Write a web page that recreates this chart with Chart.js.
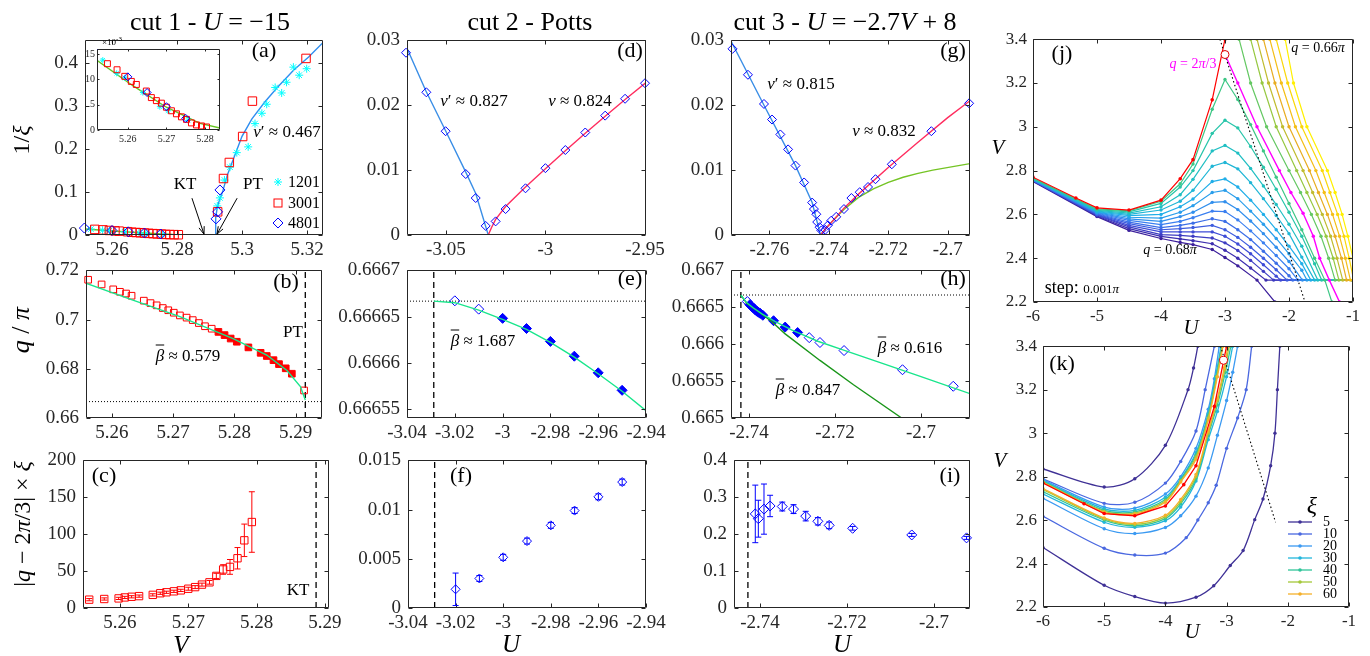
<!DOCTYPE html>
<html>
<head>
<meta charset="utf-8">
<script src="https://cdn.jsdelivr.net/npm/chart.js@4.4.1/dist/chart.umd.min.js"></script>
<style>
  body { margin: 0; width: 1370px; height: 656px; background: #fff; position: relative; overflow: hidden;
         font-family: "Liberation Serif", "Times New Roman", serif; }
  canvas { position: absolute; }
  .t { position: absolute; white-space: nowrap; color: #000; line-height: 1; }
  .ob { text-decoration: overline; font-style: italic; }
</style>
</head>
<body>
<script>
// ---------- (a) 1/xi along cut 1 ----------
const aV1201 = [5.2535, 5.2571, 5.2592, 5.2639, 5.2683, 5.2704, 5.2756, 5.2924, 5.2932, 5.2946, 5.2963, 5.2984, 5.3019, 5.304, 5.3061, 5.3076, 5.3102, 5.3122, 5.3137, 5.3158, 5.3176, 5.3199];
const aY1201 = [0.0138, 0.0112, 0.0103, 0.0074, 0.0046, 0.0038, 0.0019, 0.0677, 0.0865, 0.128, 0.158, 0.192, 0.2054, 0.2596, 0.2837, 0.3047, 0.3438, 0.331, 0.3559, 0.3912, 0.3724, 0.3875];
const aV3001 = [5.2547, 5.2572, 5.2592, 5.2609, 5.2622, 5.2648, 5.2661, 5.2674, 5.2687, 5.27, 5.2713, 5.2726, 5.2739, 5.2752, 5.2765, 5.2778, 5.2791, 5.2804, 5.2925, 5.2943, 5.2961, 5.3002, 5.3032, 5.3197];
const aY3001 = [0.0131, 0.0119, 0.0106, 0.0096, 0.009, 0.0077, 0.0064, 0.0058, 0.0053, 0.0045, 0.0038, 0.0032, 0.0026, 0.0021, 0.0014, 0.001, 0.0008, 0.0006, 0.054, 0.1316, 0.169, 0.2295, 0.312, 0.4115];
const aV4801 = [5.2515, 5.26, 5.265, 5.27, 5.275, 5.292, 5.2925, 5.2932];
const aY4801 = [0.0162, 0.0105, 0.0074, 0.0046, 0.0023, 0.0376, 0.054, 0.105];
const aFitLow = [[5.2515, 0.014], [5.2614, 0.0087], [5.27, 0.0045], [5.2787, 0.0013], [5.2839, 0.0004], [5.2881, 0]];
const aFitHigh = [[5.2917, 0], [5.2919, 0.04], [5.2923, 0.06], [5.293, 0.08], [5.294, 0.1], [5.2955, 0.14], [5.2975, 0.18], [5.3, 0.23], [5.303, 0.27], [5.307, 0.31], [5.311, 0.345], [5.316, 0.385], [5.3205, 0.415], [5.3248, 0.4475]];
const aArrows = [[5.2846, 0.0858, 5.2883, 0.002], [5.2985, 0.0858, 5.2923, 0.002]];

// ---------- (b) q/pi along cut 1 ----------
const bVOpen = [5.2561, 5.2583, 5.2602, 5.2613, 5.2623, 5.2632, 5.2652, 5.2663, 5.2673, 5.2683, 5.2692, 5.2701, 5.2711, 5.2722, 5.2732, 5.2742, 5.2752, 5.2763, 5.2914];
const bQOpen = [0.7162, 0.7143, 0.7123, 0.7113, 0.7106, 0.7097, 0.7077, 0.7067, 0.7058, 0.7047, 0.7038, 0.7028, 0.7017, 0.7008, 0.6998, 0.6986, 0.6973, 0.6963, 0.6712];
const bVFill = [5.2774, 5.2784, 5.2794, 5.2804, 5.2823, 5.2843, 5.2853, 5.2864, 5.2873, 5.2884, 5.2894];
const bQFill = [0.695, 0.6937, 0.6923, 0.691, 0.6887, 0.6865, 0.6852, 0.6835, 0.6819, 0.6802, 0.678];
const bFit = [[5.2557, 0.7148], [5.2633, 0.708], [5.2711, 0.7012], [5.2798, 0.6923], [5.2853, 0.6856], [5.2886, 0.6793], [5.2908, 0.6728], [5.2916, 0.6673]];

// ---------- (c) |q-2pi/3| xi along cut 1 ----------
const cV = [5.2555, 5.2577, 5.2598, 5.2607, 5.2617, 5.2628, 5.2648, 5.2659, 5.2668, 5.2679, 5.2689, 5.27, 5.271, 5.272, 5.2731, 5.2741, 5.2751, 5.2761, 5.2772, 5.2782, 5.2793];
const cY = [11.3, 12.2, 13, 14.3, 15.2, 16.1, 17.8, 20, 21.3, 22.6, 23.9, 26.1, 28.3, 31.7, 34.8, 43.5, 52.2, 55.7, 67.4, 91.7, 116.5];
const cErr = [1.5, 1.5, 1.5, 1.5, 1.5, 1.5, 1.5, 1.5, 1.5, 1.5, 1.5, 2, 2, 2, 2.5, 3.5, 6.5, 10, 14.5, 22, 41];

// ---------- (d) 1/xi along cut 2 ----------
const dU = [-3.07, -3.0598, -3.0501, -3.04, -3.035, -3.03, -3.025, -3.02, -3.01, -3.0, -2.99, -2.98, -2.97, -2.96, -2.95];
const dY = [0.0281, 0.022, 0.016, 0.0094, 0.0057, 0.0014, 0.0021, 0.004, 0.0072, 0.0103, 0.0131, 0.0158, 0.0184, 0.021, 0.0234];
const dFitL = [[-3.0695, 0.0288], [-3.06, 0.0222], [-3.05, 0.016], [-3.04, 0.0097], [-3.035, 0.0064], [-3.0287, 0]];
const dFitR = [[-3.0287, 0], [-3.027, 0.0012], [-3.025, 0.0024], [-3.02, 0.0044], [-3.01, 0.0074], [-3.0, 0.0102], [-2.99, 0.013], [-2.98, 0.0157], [-2.97, 0.0183], [-2.96, 0.0209], [-2.9495, 0.0235]];

// ---------- (e) q/pi along cut 2 ----------
const eUOpen = [-3.02, -3.01];
const eQOpen = [0.666667, 0.666658];
const eUFill = [-3.0, -2.99, -2.98, -2.97, -2.96, -2.95];
const eQFill = [0.666648, 0.666637, 0.666623, 0.666607, 0.666589, 0.66657];
const eFit = [[-3.0288, 0.6666667], [-3.02, 0.666665], [-3.01, 0.666657], [-3.0, 0.666647], [-2.99, 0.666636], [-2.98, 0.666622], [-2.97, 0.666606], [-2.96, 0.666588], [-2.95, 0.666569], [-2.94, 0.666548]];

// ---------- (f) |q-2pi/3| xi along cut 2 ----------
const fU = [-3.02, -3.01, -3.0, -2.99, -2.98, -2.97, -2.96, -2.95];
const fY = [0.0019, 0.003, 0.00515, 0.0068, 0.0084, 0.0099, 0.0113, 0.0128];
const fErr = [0.00165, 0.0003, 0.0003, 0.0003, 0.0003, 0.0003, 0.0003, 0.0003];

// ---------- (g) 1/xi along cut 3 ----------
const gU = [-2.7724, -2.7672, -2.7618, -2.7591, -2.7563, -2.7537, -2.7512, -2.7483, -2.7456, -2.745, -2.7442, -2.7439, -2.7431, -2.7425, -2.7412, -2.7403, -2.7392, -2.7375, -2.7349, -2.7324, -2.7296, -2.7268, -2.7243, -2.7188, -2.7055, -2.6928];
const gY = [0.0287, 0.0247, 0.0202, 0.0178, 0.0155, 0.0132, 0.0107, 0.0081, 0.005, 0.004, 0.0032, 0.002, 0.0012, 0.0007, 0.0008, 0.0015, 0.0022, 0.0028, 0.004, 0.0057, 0.0066, 0.0074, 0.0086, 0.0109, 0.016, 0.0203];
const gFitL = [[-2.7729, 0.0299], [-2.7618, 0.02], [-2.7512, 0.0107], [-2.7456, 0.005], [-2.7428, 0]];
const gFitR = [[-2.7428, 0], [-2.741, 0.001], [-2.738, 0.0025], [-2.735, 0.0041], [-2.73, 0.0063], [-2.72, 0.0104], [-2.71, 0.0143], [-2.7, 0.0181], [-2.6925, 0.0207]];
const gFitG = [[-2.7428, 0], [-2.741, 0.001], [-2.738, 0.0025], [-2.735, 0.0039], [-2.73, 0.0058], [-2.725, 0.0071], [-2.72, 0.0081], [-2.715, 0.0089], [-2.71, 0.0095], [-2.705, 0.01], [-2.6925, 0.011]];

// ---------- (h) q/pi along cut 3 ----------
const hUOpen = [-2.7404, -2.726, -2.7235, -2.7179, -2.7043, -2.6925];
const hQOpen = [0.666578, 0.666089, 0.666023, 0.665914, 0.665654, 0.66543];
const hUFill = [-2.7398, -2.7394, -2.739, -2.7386, -2.7382, -2.7378, -2.7374, -2.7368, -2.7343, -2.7316, -2.7287];
const hQFill = [0.666535, 0.666512, 0.666492, 0.666468, 0.666448, 0.666432, 0.666418, 0.666392, 0.666318, 0.666232, 0.666158];
const hFitA = [[-2.7419, 0.666665], [-2.7405, 0.66656], [-2.739, 0.66649], [-2.737, 0.66641], [-2.734, 0.66631], [-2.73, 0.66619], [-2.724, 0.66604], [-2.718, 0.66592], [-2.71, 0.66576], [-2.7, 0.66556], [-2.6886, 0.66533]];
const hFitB = [[-2.7419, 0.666665], [-2.7405, 0.66655], [-2.738, 0.66645], [-2.735, 0.66632], [-2.7316, 0.66614], [-2.7235, 0.66578], [-2.7157, 0.66545], [-2.7045, 0.665]];

// ---------- (i) |q-2pi/3| xi along cut 3 ----------
const iU = [-2.7411, -2.7404, -2.7391, -2.7377, -2.7349, -2.7323, -2.7295, -2.7267, -2.7241, -2.7187, -2.7051, -2.6925];
const iY = [0.255, 0.242, 0.268, 0.2765, 0.275, 0.268, 0.249, 0.235, 0.224, 0.216, 0.198, 0.19];
const iErr = [0.078, 0.05, 0.068, 0.029, 0.012, 0.012, 0.013, 0.01, 0.009, 0.005, 0.004, 0.004];

// ---------- (j) lines of constant q, 0.680pi ... 0.660pi ----------
const jLevels = [0.680, 0.679, 0.678, 0.677, 0.676, 0.675, 0.674, 0.673, 0.672, 0.671, 0.670, 0.669, 0.668, 0.667, 0.666, 0.665, 0.664, 0.663, 0.662, 0.661, 0.660];
const jLines = [
  [[-6, 2.750], [-5, 2.590], [-4.5, 2.527], [-4, 2.490], [-3.7, 2.472], [-3.5, 2.462], [-3.2, 2.440], [-3, 2.403], [-2.8, 2.365], [-2.5, 2.300], [-2.22, 2.2]],
  [[-6, 2.752], [-5, 2.593], [-4.5, 2.535], [-4, 2.500], [-3.7, 2.488], [-3.5, 2.480], [-3.2, 2.466], [-3, 2.436], [-2.8, 2.400], [-2.6, 2.355], [-2.36, 2.3], [-1, 2.3]],
  [[-6, 2.753], [-5, 2.596], [-4.5, 2.543], [-4, 2.508], [-3.7, 2.504], [-3.5, 2.500], [-3.2, 2.492], [-3, 2.470], [-2.8, 2.435], [-2.6, 2.390], [-2.4, 2.340], [-2.24, 2.3], [-1, 2.3]],
  [[-6, 2.754], [-5, 2.598], [-4.5, 2.550], [-4, 2.520], [-3.7, 2.520], [-3.5, 2.520], [-3.2, 2.520], [-3, 2.500], [-2.8, 2.465], [-2.6, 2.420], [-2.4, 2.370], [-2.2, 2.318], [-2.13, 2.3], [-1, 2.3]],
  [[-6, 2.755], [-5, 2.600], [-4.5, 2.558], [-4, 2.530], [-3.7, 2.535], [-3.5, 2.540], [-3.2, 2.550], [-3, 2.530], [-2.8, 2.495], [-2.6, 2.450], [-2.4, 2.400], [-2.2, 2.347], [-2.03, 2.3], [-1, 2.3]],
  [[-6, 2.756], [-5, 2.603], [-4.5, 2.565], [-4, 2.540], [-3.7, 2.550], [-3.5, 2.560], [-3.2, 2.580], [-3, 2.568], [-2.8, 2.530], [-2.6, 2.485], [-2.4, 2.432], [-2.2, 2.377], [-2, 2.320], [-1.94, 2.3], [-1, 2.3]],
  [[-6, 2.757], [-5, 2.605], [-4.5, 2.573], [-4, 2.553], [-3.7, 2.568], [-3.5, 2.585], [-3.2, 2.615], [-3, 2.613], [-2.8, 2.575], [-2.6, 2.525], [-2.4, 2.470], [-2.2, 2.412], [-2, 2.352], [-1.86, 2.3], [-1, 2.3]],
  [[-6, 2.758], [-5, 2.608], [-4.5, 2.580], [-4, 2.568], [-3.7, 2.590], [-3.5, 2.610], [-3.2, 2.655], [-3, 2.658], [-2.8, 2.622], [-2.6, 2.570], [-2.4, 2.512], [-2.2, 2.450], [-2, 2.385], [-1.79, 2.3], [-1, 2.3]],
  [[-6, 2.759], [-5, 2.610], [-4.5, 2.587], [-4, 2.583], [-3.7, 2.610], [-3.5, 2.640], [-3.2, 2.700], [-3, 2.710], [-2.8, 2.672], [-2.6, 2.615], [-2.4, 2.555], [-2.2, 2.490], [-2, 2.420], [-1.8, 2.345], [-1.72, 2.3], [-1, 2.3]],
  [[-6, 2.760], [-5, 2.612], [-4.5, 2.594], [-4, 2.600], [-3.7, 2.635], [-3.5, 2.670], [-3.2, 2.750], [-3, 2.762], [-2.8, 2.725], [-2.6, 2.665], [-2.4, 2.600], [-2.2, 2.530], [-2, 2.455], [-1.8, 2.375], [-1.66, 2.3], [-1, 2.3]],
  [[-6, 2.761], [-5, 2.615], [-4.5, 2.600], [-4, 2.620], [-3.7, 2.660], [-3.5, 2.710], [-3.2, 2.820], [-3, 2.837], [-2.8, 2.808], [-2.6, 2.745], [-2.4, 2.672], [-2.2, 2.595], [-2, 2.512], [-1.8, 2.405], [-1.6, 2.3], [-1, 2.3]],
  [[-6, 2.762], [-5, 2.618], [-4.5, 2.606], [-4, 2.635], [-3.7, 2.690], [-3.5, 2.760], [-3.2, 2.890], [-3, 2.915], [-2.8, 2.880], [-2.6, 2.810], [-2.4, 2.730], [-2.2, 2.645], [-2, 2.555], [-1.8, 2.455], [-1.55, 2.3], [-1, 2.3]],
  [[-6, 2.764], [-5, 2.622], [-4.5, 2.612], [-4, 2.650], [-3.7, 2.725], [-3.5, 2.800], [-3.2, 2.970], [-3, 3.030], [-2.8, 2.995], [-2.6, 2.910], [-2.4, 2.815], [-2.2, 2.715], [-2, 2.610], [-1.8, 2.500], [-1.6, 2.375], [-1.49, 2.3], [-1, 2.3]],
  [[-6, 2.765], [-5, 2.625], [-4.5, 2.616], [-4, 2.660], [-3.7, 2.740], [-3.5, 2.830], [-3.2, 3.080], [-3, 3.216], [-2.8, 3.125], [-2.6, 3.010], [-2.4, 2.890], [-2.2, 2.770], [-2, 2.650], [-1.8, 2.530], [-1.6, 2.400], [-1.44, 2.3], [-1.33, 2.2]],
  [[-2.78, 3.4], [-2.6, 3.2], [-2.35, 3.0], [-2.0, 2.8], [-1.82, 2.7], [-1.65, 2.6], [-1.5, 2.5], [-1.38, 2.4], [-1.28, 2.3], [-1, 2.3]],
  [[-2.6, 3.4], [-2.42, 3.2], [-2.2, 3.0], [-1.88, 2.8], [-1.72, 2.7], [-1.56, 2.6], [-1.42, 2.5], [-1.31, 2.4], [-1.22, 2.3], [-1, 2.3]],
  [[-2.5, 3.4], [-2.32, 3.2], [-2.1, 3.0], [-1.78, 2.8], [-1.63, 2.7], [-1.48, 2.6], [-1.35, 2.5], [-1.25, 2.4], [-1.16, 2.3], [-1, 2.3]],
  [[-2.4, 3.4], [-2.22, 3.2], [-2.0, 3.0], [-1.68, 2.8], [-1.54, 2.7], [-1.4, 2.6], [-1.28, 2.5], [-1.18, 2.4], [-1.1, 2.3], [-1, 2.3]],
  [[-2.3, 3.4], [-2.12, 3.2], [-1.9, 3.0], [-1.58, 2.8], [-1.45, 2.7], [-1.32, 2.6], [-1.21, 2.5], [-1.12, 2.4], [-1.04, 2.3], [-1, 2.3]],
  [[-2.2, 3.4], [-2.02, 3.2], [-1.8, 3.0], [-1.48, 2.8], [-1.36, 2.7], [-1.24, 2.6], [-1.14, 2.5], [-1.06, 2.4], [-0.99, 2.3]],
  [[-2.06, 3.4], [-1.93, 3.2], [-1.72, 3.0], [-1.4, 2.8], [-1.28, 2.7], [-1.17, 2.6], [-1.08, 2.5], [-1.0, 2.4], [-0.95, 2.33]]
];
const jTwoThirds = [[-3, 3.33], [-2.8, 3.2], [-2.5, 3.0], [-2.15, 2.8], [-1.97, 2.7], [-1.78, 2.605], [-1.62, 2.5], [-1.52, 2.4], [-1.37, 2.3], [-1.21, 2.2]];
const redLine = [[-6, 2.770], [-5.33, 2.675], [-5, 2.630], [-4.5, 2.620], [-4, 2.665], [-3.7, 2.763], [-3.5, 2.850], [-3.2, 3.123], [-3, 3.4]];
const jDotted = [[-3.08, 3.4], [-1.75, 2.2]];
const jCircle = [[-3.0, 3.33]];

// ---------- (k) lines of constant xi ----------
const kXi = [5, 10, 20, 30, 40, 50, 60];
const kUpper = [
  [[-6, 2.835], [-5, 2.752], [-4.5, 2.790], [-4, 2.944], [-3.63, 3.2], [-3.54, 3.3], [-3.47, 3.4]],
  [[-6, 2.790], [-5, 2.677], [-4.5, 2.682], [-4, 2.770], [-3.75, 2.870], [-3.5, 3.010], [-3.35, 3.2], [-3.2, 3.4]],
  [[-6, 2.785], [-5, 2.660], [-4.5, 2.655], [-4, 2.720], [-3.75, 2.800], [-3.5, 2.930], [-3.3, 3.110], [-3.2, 3.250], [-3.12, 3.4]],
  [[-6, 2.780], [-5, 2.652], [-4.5, 2.645], [-4, 2.705], [-3.75, 2.790], [-3.5, 2.910], [-3.3, 3.090], [-3.18, 3.260], [-3.09, 3.4]],
  [[-6, 2.778], [-5, 2.645], [-4.5, 2.638], [-4, 2.695], [-3.75, 2.785], [-3.5, 2.900], [-3.3, 3.080], [-3.17, 3.260], [-3.08, 3.4]],
  [[-6, 2.775], [-5, 2.640], [-4.5, 2.632], [-4, 2.688], [-3.75, 2.780], [-3.5, 2.890], [-3.3, 3.070], [-3.16, 3.260], [-3.07, 3.4]],
  [[-6, 2.773], [-5, 2.636], [-4.5, 2.628], [-4, 2.682], [-3.75, 2.775], [-3.5, 2.880], [-3.3, 3.060], [-3.15, 3.260], [-3.06, 3.4]]
];
const kLower = [
  [[-6, 2.474], [-5, 2.300], [-4.5, 2.248], [-4, 2.218], [-3.5, 2.245], [-3.21, 2.298], [-2.94, 2.391], [-2.73, 2.46], [-2.54, 2.602], [-2.405, 2.697], [-2.28, 2.85], [-2.21, 3.0], [-2.17, 3.2], [-2.13, 3.4]],
  [[-6, 2.617], [-5, 2.470], [-4.5, 2.439], [-4, 2.448], [-3.66, 2.519], [-3.47, 2.600], [-3.3, 2.68], [-3.17, 2.760], [-3.0, 2.930], [-2.82, 3.070], [-2.68, 3.2], [-2.59, 3.4]],
  [[-6, 2.700], [-5, 2.560], [-4.5, 2.538], [-4, 2.566], [-3.75, 2.620], [-3.5, 2.710], [-3.3, 2.840], [-3.15, 2.990], [-3.0, 3.150], [-2.9, 3.280], [-2.82, 3.4]],
  [[-6, 2.720], [-5, 2.590], [-4.5, 2.567], [-4, 2.597], [-3.75, 2.660], [-3.5, 2.780], [-3.3, 2.970], [-3.15, 3.100], [-3.0, 3.260], [-2.9, 3.4]],
  [[-6, 2.730], [-5, 2.600], [-4.5, 2.574], [-4, 2.607], [-3.75, 2.675], [-3.5, 2.790], [-3.3, 2.990], [-3.15, 3.130], [-3.02, 3.280], [-2.93, 3.4]],
  [[-6, 2.740], [-5, 2.605], [-4.5, 2.580], [-4, 2.615], [-3.75, 2.685], [-3.5, 2.800], [-3.3, 3.000], [-3.15, 3.150], [-3.03, 3.290], [-2.96, 3.4]],
  [[-6, 2.745], [-5, 2.610], [-4.5, 2.585], [-4, 2.622], [-3.75, 2.695], [-3.5, 2.810], [-3.3, 3.010], [-3.15, 3.160], [-3.04, 3.300], [-2.98, 3.4]]
];
const kColors = ['#3f3196', '#4a68e0', '#3b9af2', '#22b6dc', '#30c49a', '#a4c83a', '#f4b02a'];
const kDotted = [[-3.1, 3.4], [-2.2, 2.59]];
const kCircle = [[-3.05, 3.335]];

// ---------- helpers ----------
const frame = {
  id: 'frame',
  afterDatasetsDraw(c, args, o) {
    const ctx = c.ctx, a = c.chartArea, sx = c.scales.x, sy = c.scales.y, n = o.len;
    const l = Math.round(a.left) + 0.5, r = Math.round(a.right) - 0.5, t = Math.round(a.top) + 0.5, b = Math.round(a.bottom) - 0.5;
    ctx.save();
    ctx.strokeStyle = '#262626';
    ctx.lineWidth = 1;
    ctx.beginPath();
    ctx.rect(l, t, r - l, b - t);
    sx.ticks.forEach(k => {
      const p = Math.round(sx.getPixelForValue(k.value)) + 0.5;
      ctx.moveTo(p, b); ctx.lineTo(p, b - n); ctx.moveTo(p, t); ctx.lineTo(p, t + n);
    });
    sy.ticks.forEach(k => {
      const p = Math.round(sy.getPixelForValue(k.value)) + 0.5;
      ctx.moveTo(l, p); ctx.lineTo(l + n, p); ctx.moveTo(r, p); ctx.lineTo(r - n, p);
    });
    ctx.stroke();
    ctx.restore();
  }
};

const errBars = {
  id: 'errBars',
  afterDatasetsDraw(c) {
    const ctx = c.ctx, sx = c.scales.x, sy = c.scales.y;
    c.data.datasets.forEach(ds => {
      if (!ds.err) return;
      ctx.save();
      ctx.strokeStyle = ds.pointBorderColor;
      ctx.lineWidth = 1;
      ds.data.forEach((p, i) => {
        const px = sx.getPixelForValue(p.x);
        const y1 = sy.getPixelForValue(p.y - ds.err[i]), y2 = sy.getPixelForValue(p.y + ds.err[i]);
        ctx.beginPath();
        ctx.moveTo(px, y1); ctx.lineTo(px, y2);
        ctx.moveTo(px - 3, y1); ctx.lineTo(px + 3, y1);
        ctx.moveTo(px - 3, y2); ctx.lineTo(px + 3, y2);
        ctx.stroke();
      });
      ctx.restore();
    });
  }
};

function axis(s, size, horiz, fs, pad) {
  return {
    type: 'linear', min: s.min, max: s.max,
    afterBuildTicks: sc => { sc.ticks = s.ticks.map(v => ({ value: v })); },
    afterFit: sc => { if (horiz) sc.height = size; else sc.width = size; },
    grid: { display: false, drawTicks: false },
    border: { display: false },
    ticks: {
      autoSkip: false, maxRotation: 0, padding: pad, color: '#262626',
      font: { family: 'Liberation Serif', size: fs },
      callback: s.fmt || (v => String(v))
    }
  };
}

function panel(box, pad, xs, ys, datasets, extra) {
  const cv = document.createElement('canvas');
  cv.width = box.r - box.l + pad.l + pad.r;
  cv.height = box.b - box.t + pad.t + pad.b;
  cv.style.left = (box.l - pad.l) + 'px';
  cv.style.top = (box.t - pad.t) + 'px';
  document.body.appendChild(cv);
  datasets.forEach((d, i) => { if (d.order === undefined) d.order = -i; });
  return new Chart(cv, {
    type: 'scatter',
    data: { datasets },
    options: {
      responsive: false, animation: false, devicePixelRatio: 1, events: [],
      layout: { padding: { top: pad.t, right: pad.r, left: 0, bottom: 0 } },
      plugins: { legend: { display: false }, tooltip: { enabled: false }, frame: { len: pad.tick } },
      scales: {
        x: axis(xs, pad.b, true, pad.fs, pad.xp),
        y: axis(ys, pad.l, false, pad.fs, pad.yp)
      }
    },
    plugins: [frame, errBars].concat(extra || [])
  });
}

const P = { l: 78, r: 30, t: 12, b: 30, fs: 19, xp: 4, yp: 7, tick: 4 };
const PJ = { l: 50, r: 30, t: 12, b: 30, fs: 17, xp: 4, yp: 6, tick: 4 };

function lineDs(pairs, color, w, more) {
  return Object.assign({
    data: pairs.map(p => ({ x: p[0], y: p[1] })), showLine: true, borderColor: color,
    borderWidth: w || 1.3, pointRadius: 0, clip: 0
  }, more || {});
}
function markDs(xs, ys, style, color, r, filled, more) {
  return Object.assign({
    data: xs.map((x, i) => ({ x, y: ys[i] })), showLine: false, pointStyle: style, pointRadius: r,
    pointBorderColor: color, pointBackgroundColor: filled ? color : 'rgba(0,0,0,0)',
    pointBorderWidth: 1, borderColor: color, clip: 8
  }, more || {});
}
const vLine = (x, y0, y1, w) => lineDs([[x, y0], [x, y1]], '#000', w || 1.3, { borderDash: [6, 4] });
const hDot = (y, x0, x1) => lineDs([[x0, y], [x1, y]], '#000', 1, { borderDash: [1, 2] });
const dotted = (pairs) => lineDs(pairs, '#000', 1.1, { borderDash: [1.5, 2.5] });

function txt(x, y, html, size, extra) {
  const d = document.createElement('div');
  d.className = 't';
  d.style.cssText = 'left:' + x + 'px;top:' + y + 'px;font-size:' + size + 'px;transform:translate(-50%,-50%);' + (extra || '');
  d.innerHTML = html;
  document.body.appendChild(d);
}
const ROT = 'transform:translate(-50%,-50%) rotate(-90deg);';

function arrow(ctx, x1, y1, x2, y2) {
  const ang = Math.atan2(y2 - y1, x2 - x1), h = 8;
  ctx.beginPath();
  ctx.moveTo(x1, y1); ctx.lineTo(x2, y2);
  ctx.moveTo(x2 - h * Math.cos(ang - 0.35), y2 - h * Math.sin(ang - 0.35));
  ctx.lineTo(x2, y2);
  ctx.lineTo(x2 - h * Math.cos(ang + 0.35), y2 - h * Math.sin(ang + 0.35));
  ctx.stroke();
}

// colour map for the q lines in (j)
const cmapStops = [[0, [60, 31, 155]], [0.15, [62, 75, 214]], [0.3, [58, 127, 240]], [0.45, [32, 174, 232]], [0.58, [32, 196, 184]], [0.67, [70, 200, 120]], [0.76, [160, 200, 58]], [0.86, [240, 170, 32]], [1, [255, 240, 0]]];
function cmap(t) {
  for (let i = 1; i < cmapStops.length; i++) {
    const [t1, c1] = cmapStops[i], [t0, c0] = cmapStops[i - 1];
    if (t <= t1) {
      const f = (t - t0) / (t1 - t0);
      return 'rgb(' + c0.map((v, k) => Math.round(v + (c1[k] - v) * f)).join(',') + ')';
    }
  }
  return 'rgb(255,240,0)';
}

// ---------- (a) ----------
const aDeco = {
  id: 'aDeco',
  afterDatasetsDraw(c) {
    const ctx = c.ctx, sx = c.scales.x, sy = c.scales.y;
    const ox = c.canvas.offsetLeft, oy = c.canvas.offsetTop;
    ctx.save();
    ctx.strokeStyle = '#000'; ctx.lineWidth = 1;
    aArrows.forEach(([x1, y1, x2, y2]) => arrow(ctx, sx.getPixelForValue(x1), sy.getPixelForValue(y1), sx.getPixelForValue(x2), sy.getPixelForValue(y2)));
    // legend symbols
    const lx = 278 - ox;
    let y = 182 - oy;
    ctx.strokeStyle = '#00ffff';
    ctx.beginPath();
    for (let k = 0; k < 4; k++) {
      const an = k * Math.PI / 4;
      ctx.moveTo(lx - 4 * Math.cos(an), y - 4 * Math.sin(an));
      ctx.lineTo(lx + 4 * Math.cos(an), y + 4 * Math.sin(an));
    }
    ctx.stroke();
    y = 203 - oy;
    ctx.strokeStyle = '#ff0000';
    ctx.strokeRect(lx - 4, y - 4, 8, 8);
    y = 223 - oy;
    ctx.strokeStyle = '#0000ff';
    ctx.beginPath();
    ctx.moveTo(lx, y - 5); ctx.lineTo(lx + 5, y); ctx.lineTo(lx, y + 5); ctx.lineTo(lx - 5, y); ctx.closePath();
    ctx.stroke();
    ctx.restore();
  }
};
panel({ l: 85, t: 34, r: 323, b: 235 }, P,
  { min: 5.25169, max: 5.32492, ticks: [5.26, 5.28, 5.3, 5.32] },
  { min: 0, max: 0.4535, ticks: [0, 0.1, 0.2, 0.3, 0.4] },
  [
    lineDs(aFitLow, '#66c422', 1.4),
    lineDs(aFitHigh, '#2f8ef0', 1.4),
    markDs(aV1201, aY1201, 'star', '#00ffff', 4, false),
    markDs(aV3001, aY3001, 'rect', '#ff0000', 6, false),
    markDs(aV4801, aY4801, 'rectRot', '#0000ff', 5, false)
  ], [aDeco]);

// inset of (a)
panel({ l: 97, t: 47, r: 220, b: 130 }, { l: 14, r: 12, t: 6, b: 16, fs: 10, xp: 3, yp: 2, tick: 2 },
  { min: 5.252, max: 5.2839, ticks: [5.26, 5.27, 5.28] },
  { min: 0, max: 0.016, ticks: [0, 0.005, 0.01, 0.015], fmt: v => String(Math.round(v * 1000)) },
  [
    lineDs(aFitLow, '#66c422', 1.4),
    markDs(aV1201, aY1201, 'star', '#00ffff', 3, false, { clip: 0 }),
    markDs(aV3001, aY3001, 'rect', '#ff0000', 4.2, false, { clip: 0 }),
    markDs(aV4801, aY4801, 'rectRot', '#0000ff', 4, false, { clip: 0 })
  ]);

// ---------- (b) ----------
panel({ l: 86, t: 264, r: 322, b: 418 }, P,
  { min: 5.25575, max: 5.29433, ticks: [5.26, 5.27, 5.28, 5.29] },
  { min: 0.66, max: 0.72, ticks: [0.66, 0.68, 0.7, 0.72] },
  [
    hDot(2 / 3, 5.25575, 5.29433),
    vLine(5.2916, 0.66, 0.72),
    markDs(bVOpen, bQOpen, 'rect', '#ff0000', 4.7, false),
    markDs(bVFill, bQFill, 'rect', '#ff0000', 4.7, true),
    lineDs(bFit, '#19e68c', 1.4)
  ]);

// ---------- (c) ----------
panel({ l: 83, t: 454, r: 329, b: 608 }, P,
  { min: 5.25459, max: 5.29059, ticks: [5.26, 5.27, 5.28, 5.29] },
  { min: 0, max: 200, ticks: [0, 50, 100, 150, 200] },
  [
    vLine(5.2887, 0, 200),
    markDs(cV, cY, 'rect', '#ff0000', 5.2, false, { err: cErr })
  ]);

// ---------- (d) ----------
panel({ l: 407, t: 34, r: 646, b: 235 }, P,
  { min: -3.0695, max: -2.9495, ticks: [-3.05, -3, -2.95] },
  { min: 0, max: 0.03, ticks: [0, 0.01, 0.02, 0.03] },
  [
    lineDs(dFitL, '#3a8ee6', 1.4),
    lineDs(dFitR, '#ff2d5f', 1.4),
    markDs(dU, dY, 'rectRot', '#0000ff', 4.5, false)
  ]);

// ---------- (e) ----------
panel({ l: 407, t: 264, r: 646, b: 418 }, P,
  { min: -3.04, max: -2.94, ticks: [-3.04, -3.02, -3, -2.98, -2.96, -2.94] },
  { min: 0.66654, max: 0.6667, ticks: [0.66655, 0.6666, 0.66665, 0.6667] },
  [
    hDot(2 / 3, -3.04, -2.94),
    vLine(-3.0288, 0.66654, 0.6667),
    markDs(eUOpen, eQOpen, 'rectRot', '#0000ff', 5, false),
    markDs(eUFill, eQFill, 'rectRot', '#0000ff', 5, true),
    lineDs(eFit, '#19e68c', 1.4)
  ]);

// ---------- (f) ----------
panel({ l: 408, t: 454, r: 646, b: 608 }, P,
  { min: -3.04, max: -2.94, ticks: [-3.04, -3.02, -3, -2.98, -2.96, -2.94] },
  { min: 0, max: 0.015, ticks: [0, 0.005, 0.01, 0.015] },
  [
    vLine(-3.0288, 0, 0.015),
    markDs(fU, fY, 'rectRot', '#0000ff', 4.5, false, { err: fErr })
  ]);

// ---------- (g) ----------
panel({ l: 731, t: 34, r: 970, b: 235 }, P,
  { min: -2.7729, max: -2.6925, ticks: [-2.76, -2.74, -2.72, -2.7] },
  { min: 0, max: 0.03, ticks: [0, 0.01, 0.02, 0.03] },
  [
    lineDs(gFitL, '#3a8ee6', 1.4),
    lineDs(gFitG, '#74c424', 1.4),
    lineDs(gFitR, '#ff2d5f', 1.4),
    markDs(gU, gY, 'rectRot', '#0000ff', 4.5, false)
  ]);

// ---------- (h) ----------
panel({ l: 731, t: 264, r: 970, b: 418 }, P,
  { min: -2.7442, max: -2.6886, ticks: [-2.74, -2.72, -2.7] },
  { min: 0.665, max: 0.667, ticks: [0.665, 0.6655, 0.666, 0.6665, 0.667] },
  [
    hDot(2 / 3, -2.7442, -2.6886),
    vLine(-2.7419, 0.665, 0.667),
    markDs(hUOpen, hQOpen, 'rectRot', '#0000ff', 5, false),
    markDs(hUFill, hQFill, 'rectRot', '#0000ff', 5, true),
    lineDs(hFitB, '#1a961a', 1.4),
    lineDs(hFitA, '#19e68c', 1.4)
  ]);

// ---------- (i) ----------
panel({ l: 734, t: 454, r: 970, b: 608 }, P,
  { min: -2.746, max: -2.6917, ticks: [-2.74, -2.72, -2.7] },
  { min: 0, max: 0.4, ticks: [0, 0.1, 0.2, 0.3, 0.4] },
  [
    vLine(-2.7428, 0, 0.4),
    markDs(iU, iY, 'rectRot', '#0000ff', 5, false, { err: iErr })
  ]);

// ---------- (j) ----------
const jSets = [];
jLines.forEach((ln, i) => {
  const col = cmap(i / (jLevels.length - 1));
  jSets.push(lineDs(ln, col, 1.2, { pointRadius: 1.7, pointBackgroundColor: col, pointBorderColor: col, pointBorderWidth: 0 }));
});
jSets.push(lineDs(jTwoThirds, '#ff00ff', 1.4, { pointRadius: 1.7, pointBackgroundColor: '#ff00ff', pointBorderColor: '#ff00ff', pointBorderWidth: 0 }));
jSets.push(lineDs(redLine, '#ff0000', 1.2, { pointRadius: 1.8, pointBackgroundColor: '#ff0000', pointBorderColor: '#ff0000', pointBorderWidth: 0 }));
jSets.push(dotted(jDotted));
jSets.push(markDs(jCircle.map(p => p[0]), jCircle.map(p => p[1]), 'circle', '#e00000', 4, false, { pointBackgroundColor: '#fff' }));
panel({ l: 1033, t: 35, r: 1353, b: 302 }, PJ,
  { min: -6, max: -1, ticks: [-6, -5, -4, -3, -2, -1] },
  { min: 2.2, max: 3.4, ticks: [2.2, 2.4, 2.6, 2.8, 3, 3.2, 3.4] },
  jSets);

// ---------- (k) ----------
const kSets = [];
kXi.forEach((xi, i) => {
  const col = kColors[i];
  const st = { tension: 0.3, pointRadius: 1.7, pointBackgroundColor: col, pointBorderColor: col, pointBorderWidth: 0 };
  kSets.push(lineDs(kLower[i], col, 1.3, Object.assign({}, st)));
  kSets.push(lineDs(kUpper[i], col, 1.3, Object.assign({}, st)));
});
kSets.push(lineDs(redLine, '#ff0000', 1.3, { pointRadius: 1.8, pointBackgroundColor: '#ff0000', pointBorderColor: '#ff0000', pointBorderWidth: 0 }));
kSets.push(dotted(kDotted));
kSets.push(markDs(kCircle.map(p => p[0]), kCircle.map(p => p[1]), 'circle', '#e00000', 4, false, { pointBackgroundColor: '#fff' }));
const kLegend = {
  id: 'kLegend',
  afterDatasetsDraw(c) {
    const ctx = c.ctx, ox = c.canvas.offsetLeft, oy = c.canvas.offsetTop;
    ctx.save();
    kXi.forEach((xi, i) => {
      const y = 522 + 12 * i - oy;
      ctx.strokeStyle = kColors[i]; ctx.fillStyle = kColors[i]; ctx.lineWidth = 1.3;
      ctx.beginPath(); ctx.moveTo(1288 - ox, y); ctx.lineTo(1312 - ox, y); ctx.stroke();
      ctx.beginPath(); ctx.arc(1300 - ox, y, 1.8, 0, Math.PI * 2); ctx.fill();
    });
    ctx.restore();
  }
};
panel({ l: 1043, t: 342, r: 1349, b: 607 }, PJ,
  { min: -6, max: -1, ticks: [-6, -5, -4, -3, -2, -1] },
  { min: 2.2, max: 3.4, ticks: [2.2, 2.4, 2.6, 2.8, 3, 3.2, 3.4] },
  kSets, [kLegend]);

// ---------- texts ----------
txt(210, 22, 'cut 1 - <i>U</i> = −15', 26);
txt(530, 22, 'cut 2 - Potts', 26);
txt(845, 22, 'cut 3 - <i>U</i> = −2.7<i>V</i> + 8', 26);

txt(21, 140, '1/<i>ξ</i>', 24, ROT);
txt(21, 330, '<i>q</i> / <i>π</i>', 26, ROT);
txt(22, 524, '|<i>q</i> − 2<i>π</i>/3| × <i>ξ</i>', 24, ROT);
txt(181, 644, '<i>V</i>', 25);
txt(511, 643, '<i>U</i>', 25);
txt(842, 643, '<i>U</i>', 25);
txt(998, 147, '<i>V</i>', 21);
txt(1000, 460, '<i>V</i>', 21);
txt(1191, 327, '<i>U</i>', 21);
txt(1192, 631, '<i>U</i>', 21);

txt(264, 50, '(a)', 22);
txt(286, 281, '(b)', 22);
txt(104, 475, '(c)', 22);
txt(630, 50, '(d)', 22);
txt(630, 278, '(e)', 22);
txt(461, 475, '(f)', 22);
txt(953, 50, '(g)', 22);
txt(953, 278, '(h)', 22);
txt(950, 475, '(i)', 22);
txt(1062, 53, '(j)', 22);
txt(1062, 363, '(k)', 22);

txt(112, 41, '×10<sup style="font-size:7px">-3</sup>', 9);
txt(287, 131, '<i>ν</i>′ ≈ 0.467', 17);
txt(185, 183, 'KT', 17);
txt(253, 183, 'PT', 17);
txt(304, 182, '1201', 16);
txt(304, 203, '3001', 16);
txt(304, 223, '4801', 16);
txt(188, 355, '<span class="ob">β</span> ≈ 0.579', 17);
txt(293, 331, 'PT', 17);
txt(298, 589, 'KT', 17);
txt(474, 100, '<i>ν</i>′ ≈ 0.827', 17);
txt(580, 100, '<i>ν</i> ≈ 0.824', 17);
txt(483, 340, '<span class="ob">β</span> ≈ 1.687', 17);
txt(801, 83, '<i>ν</i>′ ≈ 0.815', 17);
txt(884, 130, '<i>ν</i> ≈ 0.832', 17);
txt(910, 347, '<span class="ob">β</span> ≈ 0.616', 17);
txt(808, 389, '<span class="ob">β</span> ≈ 0.847', 17);
txt(1193, 64, '<i>q</i> = 2<i>π</i>/3', 14, 'color:#ff00ff;');
txt(1318, 48, '<i>q</i> = 0.66<i>π</i>', 14);
txt(1170, 250, '<i>q</i> = 0.68<i>π</i>', 14);
txt(1082, 287, 'step: <span style="font-size:13px">0.001<i>π</i></span>', 18);
txt(1312, 505, '<i>ξ</i>', 24);
kXi.forEach((xi, i) => txt(1323, 522 + 12 * i, String(xi), 14, 'transform:translate(0,-50%);'));
</script>
</body>
</html>
